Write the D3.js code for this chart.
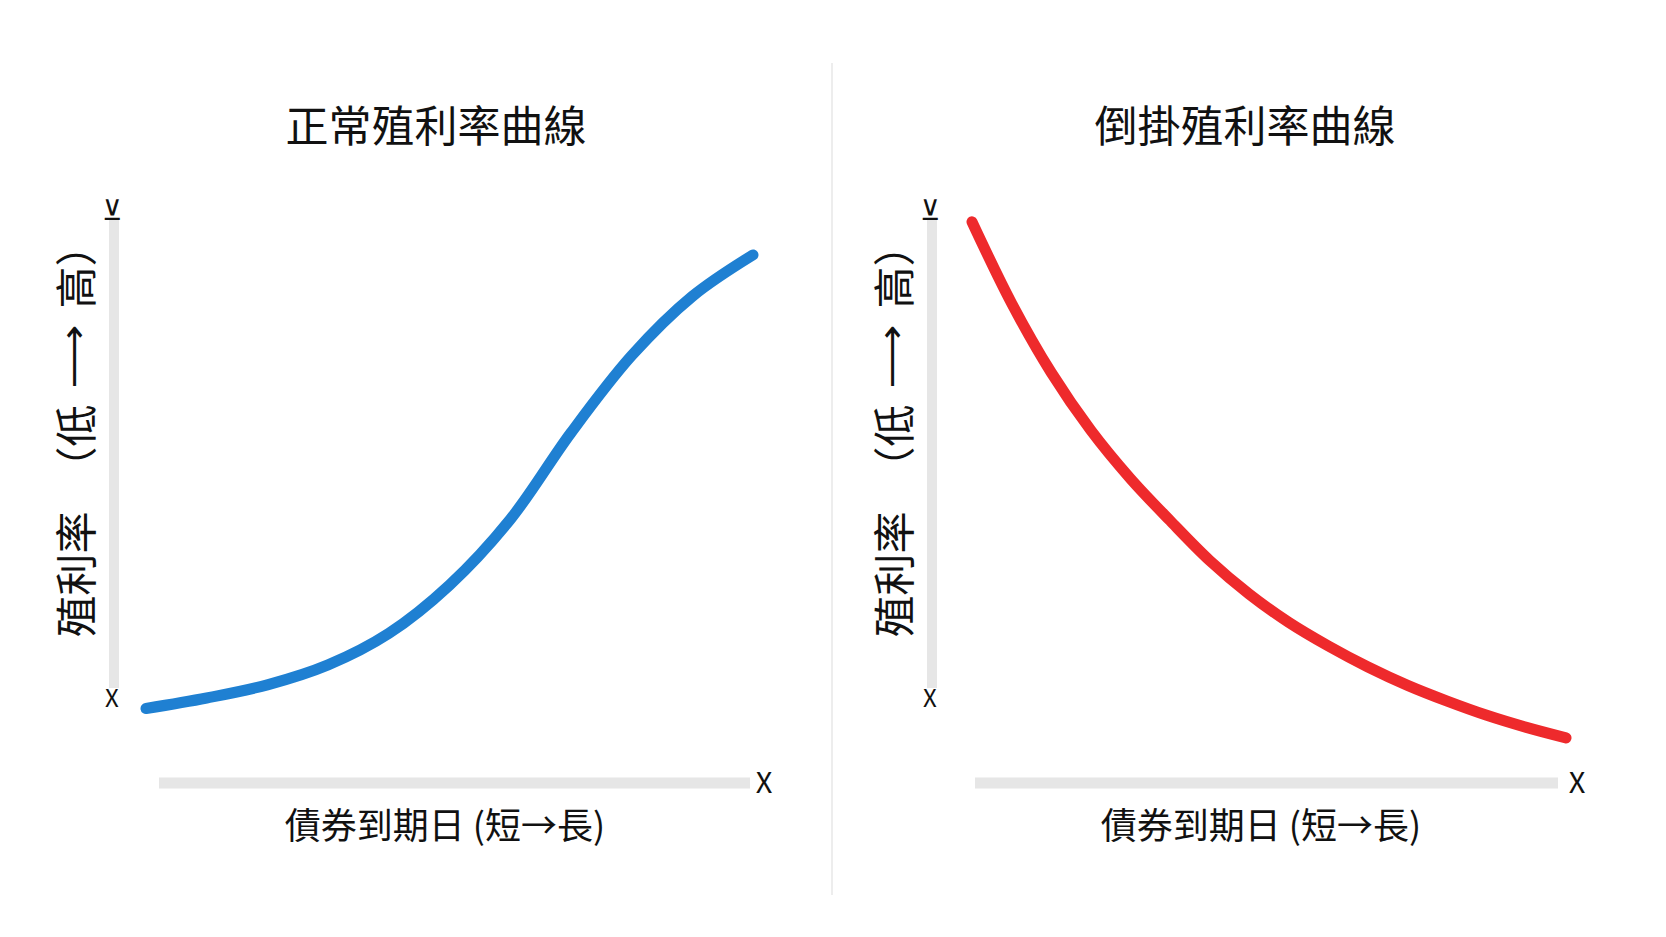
<!DOCTYPE html>
<html>
<head>
<meta charset="utf-8">
<script src="https://cdn.jsdelivr.net/npm/d3@7/dist/d3.min.js"></script>
<style>
  html, body { margin: 0; padding: 0; background: #ffffff; }
  svg { display: block; }
  text { font-family: "Noto Sans CJK TC", "Noto Sans CJK SC", "Noto Sans", sans-serif; fill: #111; }
</style>
</head>
<body>
<svg id="chart" width="1666" height="937"></svg>
<script>
// ---- data ----
const panelTitles = ["正常殖利率曲線", "倒掛殖利率曲線"];
const xAxisLabel = "債券到期日 (短→長)";
const yAxisLabelParts = ["殖利率", "（低", "⟶", "高）"];
const xEndLabel = "X";
const yTopLabel = "⊻";
const yBottomLabel = "X";

const maturityNormal = [0, 3, 6, 9, 12, 15, 18, 21, 24, 27, 30];
const yieldNormal    = [0.6, 0.8, 1.05, 1.43, 2.03, 2.95, 4.2, 5.85, 7.32, 8.45, 9.24];

const maturityInverted = [0, 2, 4, 6, 8, 10, 12, 14, 16, 18, 20, 22, 24, 26, 28, 30];
const yieldInverted    = [9.87, 8.32, 7.0, 5.9, 4.98, 4.18, 3.42, 2.78, 2.24, 1.79, 1.39, 1.04, 0.74, 0.47, 0.24, 0.04];

const seriesColors = ["#1f80d2", "#ee2a2c"];

// ---- layout ----
const svg = d3.select("#chart");

const panels = [
  { title: panelTitles[0], cx: 436, xRange: [146, 753], yAxisX: 114, xAxisRange: [159, 750], xEndX: 764, yLabelX: 73, yLabelY: 431, xLabelX: 445,
    mat: maturityNormal, yld: yieldNormal, color: seriesColors[0] },
  { title: panelTitles[1], cx: 1245, xRange: [972, 1566], yAxisX: 932, xAxisRange: [975, 1558], xEndX: 1577, yLabelX: 891, yLabelY: 431, xLabelX: 1261,
    mat: maturityInverted, yld: yieldInverted, color: seriesColors[1] }
];

const y = d3.scaleLinear().domain([0, 10]).range([740, 215]);

// divider
svg.append("line")
  .attr("x1", 832).attr("x2", 832).attr("y1", 63).attr("y2", 895)
  .attr("stroke", "#ededed").attr("stroke-width", 2);

panels.forEach(p => {
  const x = d3.scaleLinear().domain([0, 30]).range(p.xRange);
  const g = svg.append("g");

  // title
  g.append("text")
    .attr("x", p.cx).attr("y", 123)
    .attr("text-anchor", "middle").attr("dominant-baseline", "central")
    .attr("font-size", 43)
    .text(p.title);

  // y axis bar
  g.append("line")
    .attr("x1", p.yAxisX).attr("x2", p.yAxisX)
    .attr("y1", 220).attr("y2", 688)
    .attr("stroke", "#e6e6e6").attr("stroke-width", 10);

  g.append("text")
    .attr("x", p.yAxisX - 2).attr("y", 208)
    .attr("text-anchor", "middle").attr("dominant-baseline", "central")
    .attr("font-size", 28).attr("font-family", "DejaVu Sans")
    .text(yTopLabel);

  g.append("text")
    .attr("x", p.yAxisX - 2).attr("y", 696)
    .attr("text-anchor", "middle").attr("dominant-baseline", "central")
    .attr("font-size", 24).attr("font-family", "DejaVu Sans")
    .text(yBottomLabel);

  // x axis bar
  g.append("line")
    .attr("x1", p.xAxisRange[0]).attr("x2", p.xAxisRange[1])
    .attr("y1", 783).attr("y2", 783)
    .attr("stroke", "#e6e6e6").attr("stroke-width", 11);

  g.append("text")
    .attr("x", p.xEndX).attr("y", 780)
    .attr("text-anchor", "middle").attr("dominant-baseline", "central")
    .attr("font-size", 29).attr("font-family", "DejaVu Sans")
    .text(xEndLabel);

  // x axis label
  g.append("text")
    .attr("x", p.xLabelX).attr("y", 823)
    .attr("text-anchor", "middle").attr("dominant-baseline", "central")
    .attr("font-size", 36)
    .text(xAxisLabel);

  // y axis label
  const yl = g.append("text")
    .attr("transform", `translate(${p.yLabelX},${p.yLabelY}) rotate(-90)`)
    .attr("text-anchor", "middle").attr("dominant-baseline", "central")
    .attr("font-size", 42);
  yl.append("tspan").text(yAxisLabelParts[0]);
  yl.append("tspan").attr("dx", 23).text(yAxisLabelParts[1]);
  yl.append("tspan").attr("dx", 16).attr("font-family", "DejaVu Sans").attr("font-size", 36)
    .attr("textLength", 64).attr("lengthAdjust", "spacingAndGlyphs")
    .text(yAxisLabelParts[2]);
  yl.append("tspan").attr("dx", 16).text(yAxisLabelParts[3]);

  // curve
  const pts = p.mat.map((m, i) => [m, p.yld[i]]);
  const line = d3.line()
    .x(d => x(d[0])).y(d => y(d[1]))
    .curve(d3.curveCatmullRom.alpha(0.5));
  g.append("path")
    .attr("d", line(pts))
    .attr("fill", "none")
    .attr("stroke", p.color)
    .attr("stroke-width", 11)
    .attr("stroke-linecap", "round")
    .attr("stroke-linejoin", "round");
});
</script>
</body>
</html>
